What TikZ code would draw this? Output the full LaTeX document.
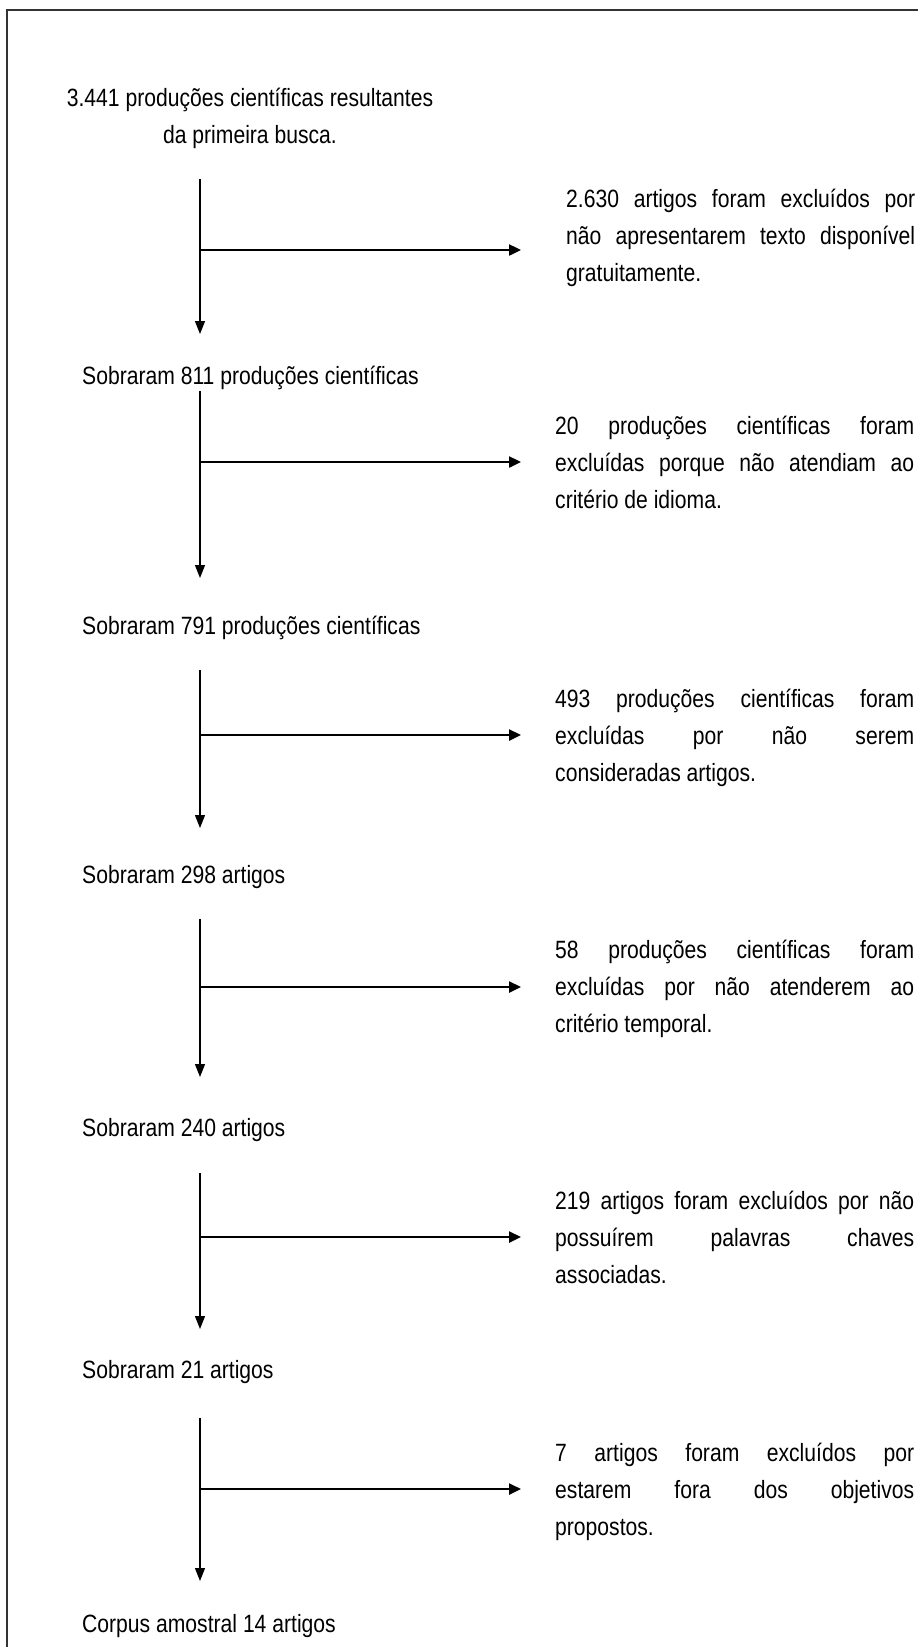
\documentclass[tikz,border=0pt]{standalone}
\usepackage{fontspec}
\setmainfont{Liberation Sans}[FakeStretch=0.845]
\usetikzlibrary{arrows.meta}
\newcommand{\jline}[2][359pt]{\hbox to #1{\spaceskip=.28em plus 1fil\relax #2}}
\begin{document}
\begin{tikzpicture}[x=1pt,y=-1pt,
  txt/.style={inner sep=0pt, font=\fontsize{25}{37}\selectfont},
  stage/.style={txt, anchor=west},
  note/.style={txt, anchor=west, align=left},
  flow/.style={line width=1.3pt, -{Triangle[length=13pt,width=10pt]}},
  branch/.style={line width=2.4pt, -{Triangle[length=12pt,width=11pt]}},
  frame/.style={line width=2pt, black!80}]
\useasboundingbox (0,0) rectangle (918,1647);
\draw[frame] (7,1647) -- (7,10) -- (918,10);

\node[txt, align=center] (h) at (250,118) {3.441 produções científicas resultantes\\da primeira busca.};

% stage labels
\node[stage] (l1) at (82,378) {Sobraram 811 produções científicas};
\node[stage] (l2) at (82,628) {Sobraram 791 produções científicas};
\node[stage] (l3) at (82,877) {Sobraram 298 artigos};
\node[stage] (l4) at (82,1130) {Sobraram 240 artigos};
\node[stage] (l5) at (82,1372) {Sobraram 21 artigos};
\node[stage] (l6) at (82,1626) {Corpus amostral 14 artigos};

% exclusion notes
\node[note] (n1) at (566,238) {\jline[349pt]{2.630 artigos foram excluídos por}\\\jline[349pt]{não apresentarem texto disponível}\\gratuitamente.};
\node[note] (n2) at (555,462) {\jline{20 produções científicas foram}\\\jline{excluídas porque não atendiam ao}\\critério de idioma.};
\node[note] (n3) at (555,738) {\jline{493 produções científicas foram}\\\jline{excluídas por não serem}\\consideradas artigos.};
\node[note] (n4) at (555,989) {\jline{58 produções científicas foram}\\\jline{excluídas por não atenderem ao}\\critério temporal.};
\node[note] (n5) at (555,1237) {\jline{219 artigos foram excluídos por não}\\\jline{possuírem palavras chaves}\\associadas.};
\node[note] (n6) at (555,1492) {\jline{7 artigos foram excluídos por}\\\jline{estarem fora dos objetivos}\\propostos.};

% coordinates: start, branch, tip, end of branch
\foreach \i/\s/\b/\t in {1/179/250/334, 2/391/462/578, 3/670/735/828, 4/919/987/1077, 5/1173/1237/1329, 6/1418/1489/1581}{
  \coordinate (s\i) at (200,\s);
  \coordinate (b\i) at (200,\b);
  \coordinate (t\i) at (200,\t);
  \coordinate (e\i) at (521,\b);
}
\foreach \i in {1,...,6}{
  \draw[flow] (s\i) -- (t\i);
  \draw[branch] (b\i) -- (e\i);
}
\end{tikzpicture}
\end{document}
